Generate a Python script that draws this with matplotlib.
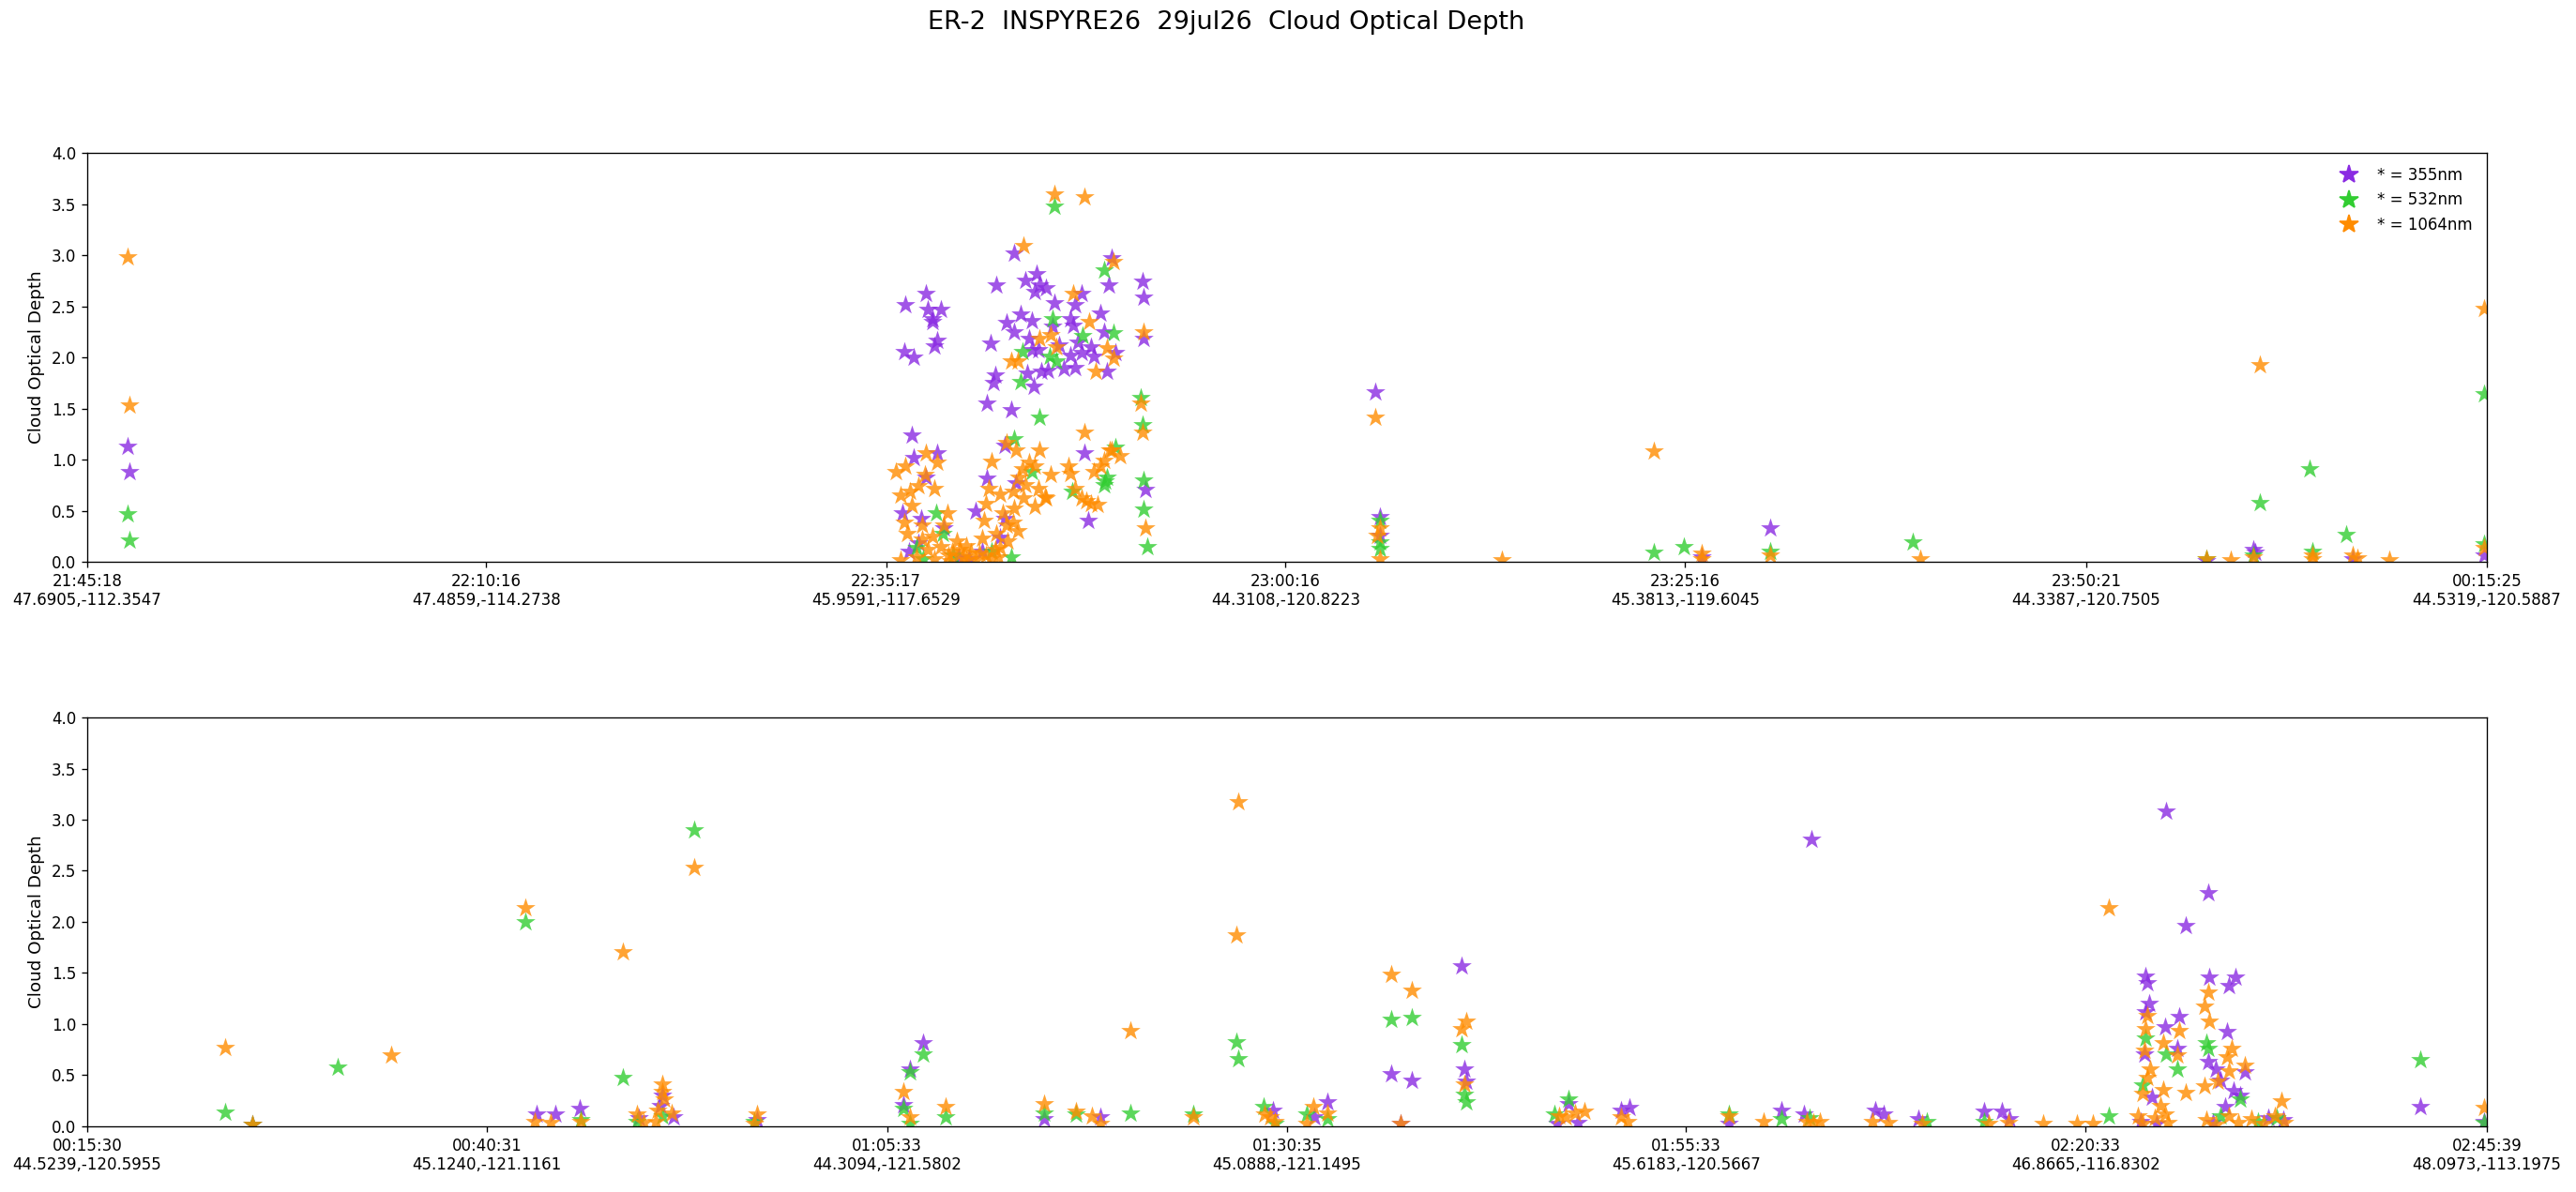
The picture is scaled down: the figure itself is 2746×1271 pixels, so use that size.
import matplotlib
matplotlib.use("Agg")
import matplotlib.pyplot as plt
from matplotlib.lines import Line2D

# ---------------- data ----------------
title = "ER-2  INSPYRE26  29jul26  Cloud Optical Depth"
wavelengths = ["355nm", "532nm", "1064nm"]
colors = ["#8A2BE2", "#32CD32", "#FF8C00"]

top_tick_times = ["21:45:18", "22:10:16", "22:35:17", "23:00:16", "23:25:16", "23:50:21", "00:15:25"]
top_tick_coords = ["47.6905,-112.3547", "47.4859,-114.2738", "45.9591,-117.6529", "44.3108,-120.8223",
                   "45.3813,-119.6045", "44.3387,-120.7505", "44.5319,-120.5887"]
bot_tick_times = ["00:15:30", "00:40:31", "01:05:33", "01:30:35", "01:55:33", "02:20:33", "02:45:39"]
bot_tick_coords = ["44.5239,-120.5955", "45.1240,-121.1161", "44.3094,-121.5802", "45.0888,-121.1495",
                   "45.6183,-120.5667", "46.8665,-116.8302", "48.0973,-113.1975"]

# minutes after panel start time, cloud optical depth
top_355 = [(2.53,1.13),(2.68,0.88),
    (58.0,3.02),(56.9,2.71),(58.7,2.75),(59.4,2.82),(59.6,2.71),(60.0,2.68),(59.3,2.64),(60.5,2.53),(62.2,2.62),
    (61.8,2.51),(63.9,2.71),(66.0,2.74),(66.1,2.59),(64.1,2.97),(51.2,2.51),(52.5,2.62),(52.6,2.47),(53.4,2.47),
    (52.9,2.38),(52.9,2.35),(51.1,2.06),(51.7,2.00),(53.2,2.17),(53.0,2.11),(56.5,2.14),(57.5,2.34),(58.4,2.42),
    (59.1,2.36),(58.0,2.25),(58.9,2.18),(61.5,2.38),(61.7,2.31),(63.4,2.43),(63.6,2.25),(61.5,2.02),(62.2,2.05),
    (62.8,2.10),(63.0,2.01),(63.8,1.86),(61.8,1.90),(61.1,1.89),(60.1,1.87),(59.7,1.86),(58.8,1.84),(59.2,1.72),
    (56.8,1.83),(56.7,1.75),(56.3,1.55),(57.8,1.49),(59.5,2.07),(59.1,2.07),(66.1,2.18),(62.4,1.06),(62.6,0.40),
    (51.6,1.24),(51.7,1.02),(53.2,1.06),(52.45,0.83),(51.0,0.48),(52.2,0.42),(57.4,1.14),(56.3,0.82),(58.1,0.77),
    (66.2,0.71),(57.4,0.42),(57.1,0.24),(55.6,0.50),(53.6,0.33),(52.0,0.18),(54.5,0.05),(55.2,0.03),(56.0,0.10),
    (51.4,0.10),(60.4,2.30),(60.8,2.12),(62.0,2.15),(64.3,2.05),
    (80.6,1.66),(80.9,0.44),(80.9,0.26),(101.0,0.05),(105.3,0.33),(135.5,0.12),(135.6,0.09),(141.7,0.03),
    (149.95,0.06),(132.6,0.01)]
top_532 = [(2.53,0.47),(2.68,0.21),
    (60.5,3.48),(63.6,2.85),(60.4,2.38),(64.2,2.24),(62.3,2.21),(58.5,2.06),(60.2,2.01),(60.6,1.96),(58.4,1.76),
    (59.6,1.41),(65.9,1.61),(66.0,1.34),(64.3,1.12),(63.8,0.83),(63.6,0.75),(66.1,0.80),(66.1,0.51),(66.3,0.15),
    (58.0,1.20),(59.1,0.88),(63.7,0.79),(61.6,0.69),(51.9,0.14),(53.5,0.28),(53.1,0.48),(54.2,0.06),(56.6,0.10),
    (57.8,0.05),(52.3,0.03),
    (80.9,0.40),(80.9,0.19),(80.9,0.13),(98.0,0.09),(99.9,0.15),(105.3,0.10),(114.2,0.19),(132.6,0.03),
    (135.5,0.06),(135.9,0.58),(139.0,0.91),(139.2,0.10),(141.3,0.27),(149.95,1.64),(149.95,0.17)]
top_1064 = [(2.53,2.98),(2.68,1.53),
    (60.5,3.60),(62.4,3.57),(58.6,3.09),(64.2,2.94),(61.7,2.62),(62.7,2.35),(66.1,2.25),(59.6,2.18),(60.3,2.22),
    (60.6,2.10),(58.2,1.96),(57.8,1.96),(63.8,2.09),(64.2,1.99),(63.1,1.86),(65.9,1.55),(66.0,1.27),(62.4,1.27),
    (66.2,0.33),(64.1,1.09),
    (52.45,1.06),(53.2,0.97),(51.2,0.94),(51.5,0.69),(50.9,0.65),(53.0,0.72),(52.0,0.74),(51.1,0.39),(52.25,0.36),
    (52.25,0.22),(53.8,0.48),(53.6,0.36),(54.4,0.20),(54.1,0.10),(54.8,0.05),(55.8,0.08),(55.6,0.02),(50.9,0.02),
    (51.9,0.05),(56.6,0.98),(57.5,1.17),(58.1,1.09),(59.6,1.09),(58.9,0.97),(59.3,0.94),(58.5,0.91),(56.4,0.72),
    (57.1,0.66),(57.9,0.69),(58.7,0.75),(59.5,0.72),(59.9,0.63),(60.3,0.85),(59.3,0.54),(56.2,0.57),(56.1,0.40),
    (57.5,0.36),(57.9,0.39),(57.1,0.14),(56.0,0.23),(61.4,0.94),(61.5,0.86),(61.8,0.72),(62.2,0.62),(62.8,0.57),
    (63.2,0.56),(63.4,0.94),(63.0,0.88),(64.0,1.09),
    (53.0,0.03),(54.0,0.01),(55.0,0.02),(56.5,0.03),(57.0,0.05),(52.6,0.12),(51.6,0.55),(52.4,0.85),(50.6,0.88),
    (58.3,0.83),(60.0,0.62),(62.5,0.60),(63.6,0.99),(64.6,1.04),
    (53.4,0.15),(54.6,0.12),(55.3,0.09),(56.2,0.06),(56.9,0.28),(57.6,0.20),(58.2,0.30),(52.9,0.25),(51.3,0.28),
    (55.0,0.16),(53.9,0.06),(56.8,0.12),(57.3,0.48),(58.0,0.52),(58.6,0.62),
    (80.6,1.41),(80.9,0.33),(80.9,0.03),(80.7,0.26),(88.5,0.02),(98.0,1.08),(101.0,0.08),(101.0,0.03),(105.3,0.06),
    (114.7,0.03),(132.6,0.03),(134.1,0.02),(135.5,0.05),(135.9,1.93),(139.2,0.06),(139.2,0.03),(141.7,0.06),
    (142.0,0.04),(144.0,0.02),(149.95,2.48),(149.95,0.14)]

bot_355 = [(10.37,0.02),(28.1,0.12),(29.3,0.12),(30.8,0.17),(34.5,0.08),(36.0,0.30),(36.7,0.09),(35.9,0.20),
    (41.9,0.06),(51.1,0.21),(51.5,0.56),(52.3,0.82),(59.9,0.07),(63.4,0.09),(74.2,0.16),(76.8,0.09),(77.6,0.24),
    (81.6,0.51),(82.9,0.45),(82.2,0.03),(86.0,1.57),(86.2,0.56),(86.3,0.44),(92.7,0.22),(92.0,0.03),(93.3,0.04),
    (95.95,0.16),(96.5,0.18),(102.7,0.03),(106.0,0.16),(107.4,0.12),(107.9,2.81),(111.9,0.16),(112.4,0.12),
    (114.6,0.07),(118.7,0.15),(119.8,0.15),(120.3,0.07),
    (130.1,3.08),(132.7,2.28),(131.3,1.96),(128.8,1.47),(128.9,1.40),(132.8,1.46),(134.4,1.46),(134.0,1.38),
    (129.0,1.20),(128.8,1.12),(130.9,1.07),(130.0,0.97),(133.9,0.93),(128.7,0.71),(130.8,0.76),(132.7,0.63),
    (135.0,0.53),(133.2,0.56),(129.2,0.28),(134.7,0.30),(133.8,0.19),(133.5,0.45),(134.3,0.35),(128.5,0.05),
    (129.5,0.03),(133.0,0.04),(136.5,0.08),(137.4,0.06),(146.0,0.19),(149.95,0.05)]
bot_532 = [(8.65,0.14),(10.37,0.02),(15.68,0.58),(27.44,2.00),(33.5,0.48),(38.0,2.90),(30.9,0.06),(34.4,0.05),
    (36.0,0.10),(41.75,0.05),(51.1,0.17),(51.5,0.53),(51.5,0.03),(52.3,0.71),(53.7,0.09),(59.9,0.13),(61.9,0.12),
    (65.3,0.13),(69.2,0.12),(71.9,0.83),(72.0,0.66),(73.6,0.19),(74.3,0.03),(76.3,0.12),(77.6,0.07),(81.6,1.05),
    (82.9,1.06),(86.0,0.80),(86.2,0.31),(86.3,0.24),(92.7,0.27),(91.8,0.12),(102.7,0.12),(106.0,0.07),(107.8,0.08),
    (115.1,0.05),(118.7,0.05),(126.5,0.10),(128.8,0.86),(132.6,0.82),(132.7,0.76),(130.1,0.71),(130.8,0.56),
    (134.7,0.27),(128.6,0.40),(133.5,0.10),(135.8,0.05),(137.0,0.08),(146.0,0.65),(149.95,0.04)]
bot_1064 = [(8.65,0.77),(10.37,0.02),(19.0,0.70),(27.44,2.14),(33.5,1.71),(38.0,2.53),(28.0,0.05),(29.0,0.04),
    (30.9,0.05),(34.4,0.12),(34.8,0.04),(35.6,0.05),(36.0,0.41),(36.0,0.34),(36.1,0.27),(35.7,0.16),(36.6,0.13),
    (41.9,0.12),(41.75,0.03),(51.1,0.34),(51.5,0.09),(53.7,0.19),(59.9,0.22),(61.9,0.15),(62.9,0.10),(63.4,0.03),
    (65.3,0.94),(69.2,0.09),(72.0,3.17),(71.9,1.87),(73.7,0.12),(74.0,0.09),(74.3,0.05),(76.3,0.03),(76.7,0.19),
    (77.6,0.13),(81.6,1.49),(82.9,1.33),(82.2,0.03),(86.3,1.03),(86.0,0.95),(86.2,0.41),(92.1,0.10),(93.1,0.13),
    (93.7,0.15),(92.5,0.09),(95.95,0.09),(96.4,0.05),(102.7,0.10),(104.9,0.05),(107.6,0.05),(108.0,0.04),
    (108.4,0.05),(111.7,0.05),(112.7,0.04),(114.8,0.03),(119.0,0.03),(120.2,0.04),(122.4,0.03),(124.5,0.03),
    (125.5,0.03),
    (126.5,2.14),(132.7,1.31),(132.5,1.17),(128.9,1.08),(130.9,0.94),(132.8,1.03),(128.8,0.95),(129.9,0.82),
    (134.2,0.76),(133.9,0.68),(130.8,0.70),(128.7,0.74),(135.0,0.60),(129.1,0.56),(128.9,0.48),(134.0,0.54),
    (132.5,0.39),(133.3,0.44),(129.9,0.36),(131.3,0.33),(128.6,0.32),(137.3,0.25),(128.3,0.10),(128.6,0.03),
    (129.4,0.08),(130.0,0.12),(130.2,0.04),(132.6,0.06),(133.2,0.02),(134.0,0.10),(134.6,0.04),(135.4,0.07),
    (136.2,0.03),(136.9,0.10),(137.5,0.04),(129.7,0.20),(149.95,0.18)]

# ---------------- plotting ----------------
def to_min(t):
    h, m, s = (int(p) for p in t.split(":"))
    return h * 60 + m + s / 60.0

def tick_positions(times):
    t0 = to_min(times[0])
    out = []
    for t in times:
        v = to_min(t) - t0
        if v < 0:
            v += 24 * 60
        out.append(v)
    return out

DPI = 120
fig = plt.figure(figsize=(2746 / DPI, 1271 / DPI), dpi=DPI)
fig.suptitle(title, fontsize=16.3, x=0.476, y=0.991)

W = 0.9316
L = 0.0338
H = 0.343
ax_top = fig.add_axes([L, 0.5287, W, H])
ax_bot = fig.add_axes([L, 0.0551, W, H])

panels = [
    (ax_top, [top_355, top_532, top_1064], top_tick_times, top_tick_coords),
    (ax_bot, [bot_355, bot_532, bot_1064], bot_tick_times, bot_tick_coords),
]

yt = [0, 0.5, 1.0, 1.5, 2.0, 2.5, 3.0, 3.5, 4.0]
for ax, series, ttimes, tcoords in panels:
    for data, col in zip(series, colors):
        xs = [p[0] for p in data]
        ys = [p[1] for p in data]
        ax.scatter(xs, ys, marker="*", s=170, color=col, alpha=0.8, linewidths=0)
    pos = tick_positions(ttimes)
    ax.set_xticks(pos)
    ax.set_xticklabels([f"{t}\n{c}" for t, c in zip(ttimes, tcoords)], fontsize=10)
    ax.set_xlim(pos[0], pos[-1])
    ax.set_ylim(0, 4.0)
    ax.set_yticks(yt)
    ax.set_yticklabels([f"{v:.1f}" for v in yt], fontsize=10)
    ax.set_ylabel("Cloud Optical Depth", fontsize=11)

handles = [Line2D([], [], linestyle="none", marker="*", markersize=12, color=c) for c in colors]
ax_top.legend(handles, [f"* = {w}" for w in wavelengths], loc="upper right", frameon=False, fontsize=10)

fig.savefig("out.png", dpi=DPI)
